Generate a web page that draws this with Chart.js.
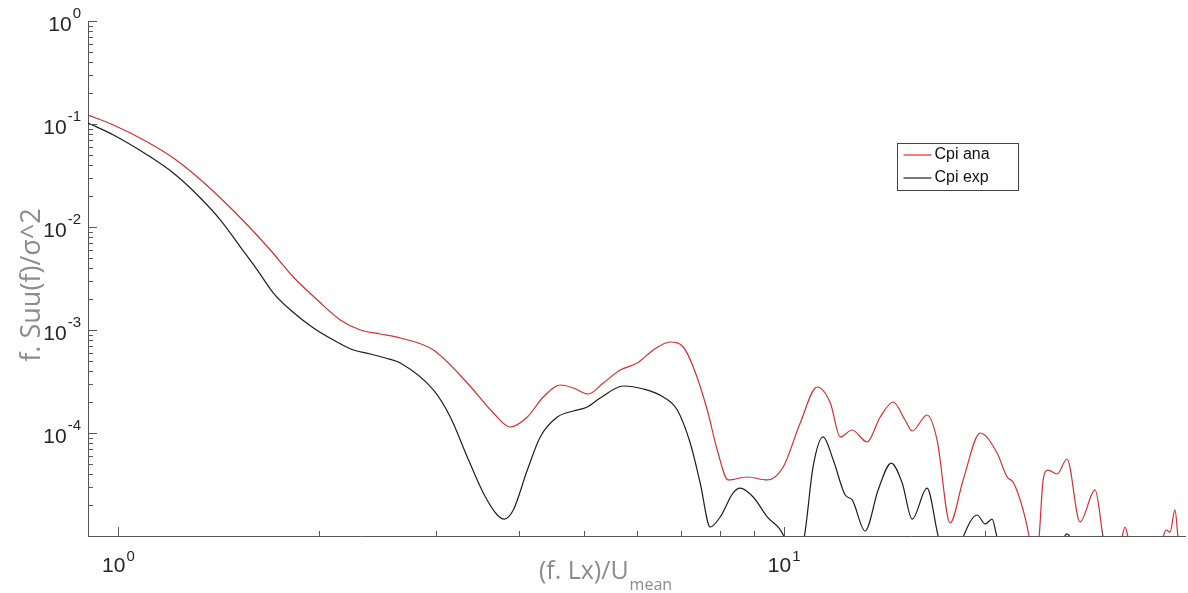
<!DOCTYPE html>
<html>
<head>
<meta charset="utf-8">
<script src="https://cdn.jsdelivr.net/npm/chart.js"></script>
<style>
html,body{margin:0;padding:0;background:#fff;}
canvas{display:block;}
</style>
</head>
<body>
<canvas id="c" width="1188" height="593"></canvas>
<script>
// ---- data ----
const seriesNames = ['Cpi ana', 'Cpi exp'];

const xAna = [0.90,0.983,1.105,1.209,1.314,1.423,1.562,1.691,1.831,1.990,2.154,2.309,2.474,2.651,2.972,3.342,3.657,3.878,4.113,4.346,4.610,4.823,5.079,5.349,5.673,6.016,6.359,6.744,7.053,7.302,7.664,7.933,8.240,8.800,9.430,9.966,10.57,11.21,11.73,12.14,12.65,13.32,13.94,14.58,15.19,15.57,16.39,16.97,17.75,18.57,19.70,20.88,21.62,22.07,22.85,23.33,23.73,24.15,24.49,24.91,25.70,26.60,27.82,29.31,30.13,31.19,32.18,32.51,32.85,34.83,37.08,37.46,37.98,38.64,39.04,40];
const yAna = [0.1223,0.0978,0.0669,0.0468,0.0306,0.0191,0.01046,0.00598,0.00327,0.001956,0.001251,0.001,0.000915,0.000837,0.000639,0.000306,0.0001564,0.0001143,0.0001429,0.0002236,0.0002924,0.0002735,0.0002391,0.000306,0.000409,0.000478,0.000639,0.000765,0.000684,0.000437,0.0001672,0.0000684,0.000035,0.0000374,0.000035,0.0000468,0.0001251,0.0002796,0.0001956,0.0000915,0.0001069,0.0000818,0.0001429,0.0002,0.0001337,0.0001046,0.0001495,0.0000855,0.00001337,0.000035,0.0001,0.0000639,0.0000374,0.0000334,0.0000179,0.0000098,0.000004,0.0000098,0.000035,0.0000437,0.00004,0.0000559,0.0000137,0.000028,0.0000098,0.000003,0.0000098,0.00001223,0.0000098,0.000003,0.0000098,0.00001143,0.0000109,0.0000179,0.0000098,0.000003];

const xExp = [0.90,0.983,1.105,1.209,1.314,1.423,1.525,1.617,1.709,1.813,1.963,2.103,2.254,2.390,2.517,2.651,2.972,3.151,3.342,3.532,3.708,3.798,3.918,4.113,4.301,4.563,4.823,5.061,5.292,5.732,6.143,6.583,6.909,7.225,7.479,7.742,8.014,8.382,8.587,8.983,9.430,9.966,10.31,10.72,11.05,11.44,11.85,12.35,12.65,13.23,13.84,14.48,15.04,15.57,16.39,17.03,17.75,18.57,19.49,20.04,20.53,20.88,23.4,26.33,26.60,26.88,30.0,40];
const yExp = [0.1023,0.0782,0.05,0.0334,0.02045,0.01169,0.00639,0.00382,0.002286,0.001564,0.001046,0.0008,0.000639,0.000585,0.000535,0.000478,0.0002616,0.0001429,0.0000585,0.0000262,0.000016,0.0000146,0.0000179,0.0000437,0.0000915,0.0001429,0.0001635,0.0001789,0.0002187,0.000286,0.0002675,0.0002236,0.0001672,0.00008,0.0000327,0.00001223,0.0000153,0.0000262,0.0000292,0.0000239,0.0000153,0.00001023,0.000005,0.0000098,0.0000468,0.0000915,0.0000547,0.000025,0.0000224,0.00001118,0.000028,0.0000511,0.0000327,0.0000146,0.0000292,0.00001,0.000004,0.0000098,0.000016,0.0000131,0.0000146,0.0000098,0.000003,0.0000098,0.0000105,0.0000098,0.000003,0.000003];

// tick labels (base 10 with exponent)
const xTickValues = [1, 10];
const xTickExponents = ['0', '1'];
const yTickValues = [1, 0.1, 0.01, 0.001, 0.0001];
const yTickExponents = ['0', '-1', '-2', '-3', '-4'];

const xTitleMain = '(f. Lx)/U';
const xTitleSub = 'mean';
const yTitle = 'f. Suu(f)/\u03C3^2';

const xRange = [0.9, 40];
const yRange = [1e-5, 1];

// ---- drawing ----
const AXIS = '#555555';
const LABEL_FONT = '"Liberation Sans", Arial, sans-serif';
const TITLE_FONT = '"Open Sans", sans-serif';

function drawPow(ctx, x, baseY, expY, exp, align) {
  ctx.font = '21px ' + LABEL_FONT;
  const wb = ctx.measureText('10').width;
  ctx.font = '15px ' + LABEL_FONT;
  const we = ctx.measureText(exp).width;
  const total = wb + we + 1;
  let sx = align === 'right' ? x - total : x - total / 2;
  ctx.textAlign = 'left';
  ctx.textBaseline = 'alphabetic';
  ctx.font = '21px ' + LABEL_FONT;
  ctx.fillText('10', sx, baseY);
  ctx.font = '15px ' + LABEL_FONT;
  ctx.fillText(exp, sx + wb + 1, expY);
}

const decor = {
  id: 'decor',
  afterDraw(chart) {
    const {ctx, chartArea: ca, scales: {x, y}} = chart;
    ctx.save();
    ctx.strokeStyle = AXIS;
    ctx.lineWidth = 1;
    // y ticks (inward)
    for (let d = -5; d <= 0; d++) {
      for (let m = 1; m <= 9; m++) {
        const v = m * Math.pow(10, d);
        if (v <= y.min * 1.0001 || v > y.max * 1.0001) continue;
        const py = Math.round(y.getPixelForValue(v)) + 0.5;
        const len = m === 1 ? 9 : 5;
        ctx.beginPath(); ctx.moveTo(ca.left, py); ctx.lineTo(ca.left + len, py); ctx.stroke();
      }
    }
    // x ticks (inward)
    for (let d = -1; d <= 1; d++) {
      for (let m = 1; m <= 9; m++) {
        const v = m * Math.pow(10, d);
        if (v <= x.min * 1.0001 || v >= x.max * 0.9999) continue;
        const px = Math.round(x.getPixelForValue(v)) + 0.5;
        const len = m === 1 ? 9 : 5;
        ctx.beginPath(); ctx.moveTo(px, ca.bottom); ctx.lineTo(px, ca.bottom - len); ctx.stroke();
      }
    }
    // tick labels
    ctx.fillStyle = '#262626';
    yTickValues.forEach((v, i) => {
      const py = y.getPixelForValue(v);
      drawPow(ctx, ca.left - 7, py + 10, py - 3, yTickExponents[i], 'right');
    });
    xTickValues.forEach((v, i) => {
      const px = x.getPixelForValue(v);
      drawPow(ctx, px, 572, 561, xTickExponents[i], 'center');
    });
    // axis titles
    ctx.fillStyle = '#8c8c8c';
    ctx.save();
    ctx.translate(32, 285);
    ctx.rotate(-Math.PI / 2);
    ctx.font = '27px ' + TITLE_FONT;
    ctx.textAlign = 'center';
    ctx.textBaseline = 'middle';
    ctx.fillText(yTitle, 0, 0);
    ctx.restore();

    ctx.font = '25px ' + TITLE_FONT;
    const wm = ctx.measureText(xTitleMain).width;
    ctx.font = '16px ' + TITLE_FONT;
    const ws = ctx.measureText(xTitleSub).width;
    const sx = 605 - (wm + ws) / 2;
    ctx.textAlign = 'left';
    ctx.textBaseline = 'alphabetic';
    ctx.font = '25px ' + TITLE_FONT;
    ctx.fillText(xTitleMain, sx, 579);
    ctx.font = '16px ' + TITLE_FONT;
    ctx.fillText(xTitleSub, sx + wm + 1, 590);

    // legend
    const lx = 897.5, ly = 143.5, lw = 121, lh = 47;
    ctx.fillStyle = '#ffffff';
    ctx.fillRect(lx, ly, lw, lh);
    ctx.strokeStyle = '#444';
    ctx.strokeRect(lx, ly, lw, lh);
    chart.data.datasets.forEach((ds, i) => {
      const yy = ly + 11.5 + i * 23;
      ctx.strokeStyle = ds.borderColor;
      ctx.lineWidth = 1.2;
      ctx.beginPath(); ctx.moveTo(lx + 6, yy); ctx.lineTo(lx + 34, yy); ctx.stroke();
      ctx.fillStyle = '#111';
      ctx.font = '16px ' + LABEL_FONT;
      ctx.textAlign = 'left';
      ctx.textBaseline = 'middle';
      ctx.fillText(ds.label, lx + 37, yy);
    });
    ctx.restore();
  }
};

const toPts = (xs, ys) => xs.map((v, i) => ({x: v, y: ys[i]}));

new Chart(document.getElementById('c'), {
  type: 'line',
  data: {
    datasets: [
      {label: seriesNames[0], data: toPts(xAna, yAna), borderColor: '#d42f2f', borderWidth: 1.2,
       pointRadius: 0, cubicInterpolationMode: 'monotone', fill: false},
      {label: seriesNames[1], data: toPts(xExp, yExp), borderColor: '#1e1e1e', borderWidth: 1.2,
       pointRadius: 0, cubicInterpolationMode: 'monotone', fill: false}
    ]
  },
  options: {
    responsive: false,
    devicePixelRatio: 1,
    animation: false,
    parsing: true,
    layout: {padding: {top: 21, right: 3, left: 0, bottom: 0}},
    plugins: {legend: {display: false}, tooltip: {enabled: false}},
    scales: {
      x: {
        type: 'logarithmic', position: 'bottom', min: xRange[0], max: xRange[1],
        grid: {display: false}, border: {display: true, color: AXIS, width: 1},
        ticks: {display: false},
        afterFit(s) { s.height = 57; }
      },
      y: {
        type: 'logarithmic', position: 'left', min: yRange[0], max: yRange[1],
        grid: {display: false}, border: {display: true, color: AXIS, width: 1},
        ticks: {display: false},
        afterFit(s) { s.width = 88; }
      }
    }
  },
  plugins: [decor]
});
</script>
</body>
</html>
